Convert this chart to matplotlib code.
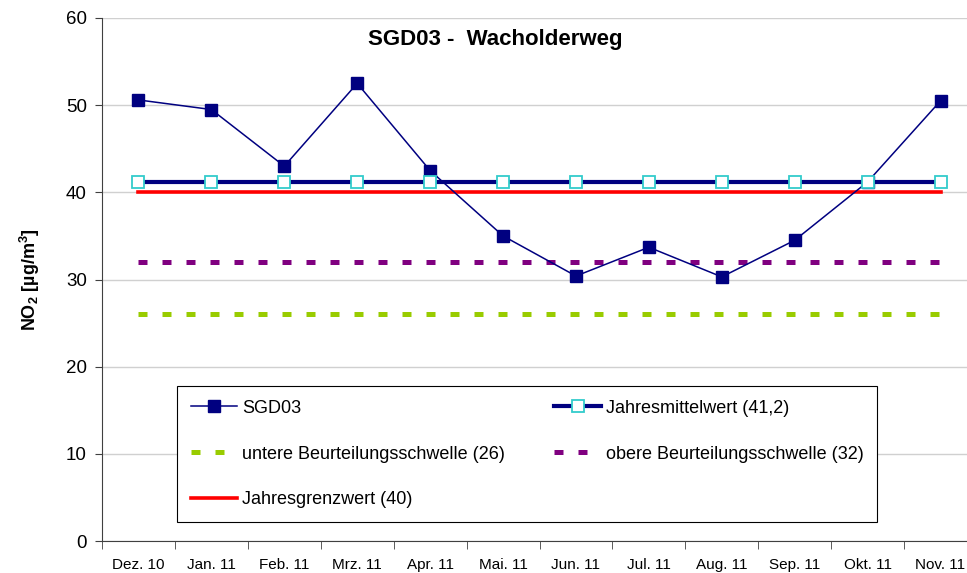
import matplotlib
matplotlib.use('Agg')
import matplotlib.pyplot as plt

plt.rcParams['font.family'] = ['Liberation Sans', 'DejaVu Sans']
plt.rcParams['mathtext.default'] = 'regular'

months = ['Dez. 10', 'Jan. 11', 'Feb. 11', 'Mrz. 11', 'Apr. 11', 'Mai. 11',
          'Jun. 11', 'Jul. 11', 'Aug. 11', 'Sep. 11', 'Okt. 11', 'Nov. 11']
sgd03 = [50.6, 49.5, 43.0, 52.5, 42.5, 35.0, 30.4, 33.7, 30.3, 34.5, 41.2, 50.5]
jahresmittel = 41.2
untere = 26
obere = 32
grenzwert = 40

x = list(range(len(months)))

fig = plt.figure(figsize=(9.67, 5.73), dpi=100)
ax = fig.add_axes([102 / 967, 32 / 573, 875 / 967, 523 / 573])

# threshold lines
ln_unt, = ax.plot(x, [untere] * len(x), color='#99CC00', lw=3.6, dashes=(1.8, 3.0),
                  label='untere Beurteilungsschwelle (26)', zorder=2)
ln_obe, = ax.plot(x, [obere] * len(x), color='#800080', lw=3.6, dashes=(1.8, 3.0),
                  label='obere Beurteilungsschwelle (32)', zorder=2)
ln_gw, = ax.plot(x, [grenzwert] * len(x), color='#FF0000', lw=2.6,
                 label='Jahresgrenzwert (40)', zorder=3)
ln_sgd, = ax.plot(x, sgd03, color='#000080', lw=1.1, marker='s', ms=8.5,
                  mfc='#000080', mec='#000080', label='SGD03', zorder=4)
ln_mw, = ax.plot(x, [jahresmittel] * len(x), color='#000080', lw=3.0, marker='s', ms=8.5,
                 mfc='white', mec='#33CCCC', mew=1.3, label='Jahresmittelwert (41,2)', zorder=5)

ax.set_xlim(-0.5, len(x) - 0.5)
ax.set_ylim(0, 60)
ax.set_yticks(range(0, 61, 10))
ax.tick_params(axis='y', labelsize=13.5, length=5, color='#404040', direction='out', pad=6)
ax.set_xticks(x)
ax.set_xticklabels(months)
for lab in ax.get_xticklabels():
    lab.set_verticalalignment('baseline')
ax.set_xticks([i - 0.5 for i in range(len(x) + 1)], minor=True)
ax.tick_params(axis='x', which='major', length=0, labelsize=11, pad=20.5)
ax.tick_params(axis='x', which='minor', length=5.5, color='#404040')
ax.grid(axis='y', color='#D0D0D0', lw=1)
ax.set_axisbelow(True)
for s in ['top', 'right']:
    ax.spines[s].set_visible(False)
for s in ['left', 'bottom']:
    ax.spines[s].set_color('#404040')

ax.set_ylabel('NO$_2$ [µg/m$^3$]', fontsize=13, fontweight='bold', labelpad=17)
ax.text(0.449, 0.958, 'SGD03 -  Wacholderweg', transform=ax.transAxes,
        ha='center', va='center', fontsize=16, fontweight='bold')

handles = [ln_sgd, ln_unt, ln_gw, ln_mw, ln_obe]
leg = ax.legend(handles=handles, labels=[h.get_label() for h in handles], ncol=2,
                loc='lower left', bbox_to_anchor=(0.0857, 0.0363, 0.8, 0.262),
                mode='expand', borderaxespad=0, fontsize=13, frameon=True,
                fancybox=False, edgecolor='black', framealpha=1,
                handlelength=2.6, handletextpad=0.25, labelspacing=1.6,
                borderpad=0.75)
leg.get_frame().set_linewidth(0.8)

fig.savefig('out.png', dpi=100)
